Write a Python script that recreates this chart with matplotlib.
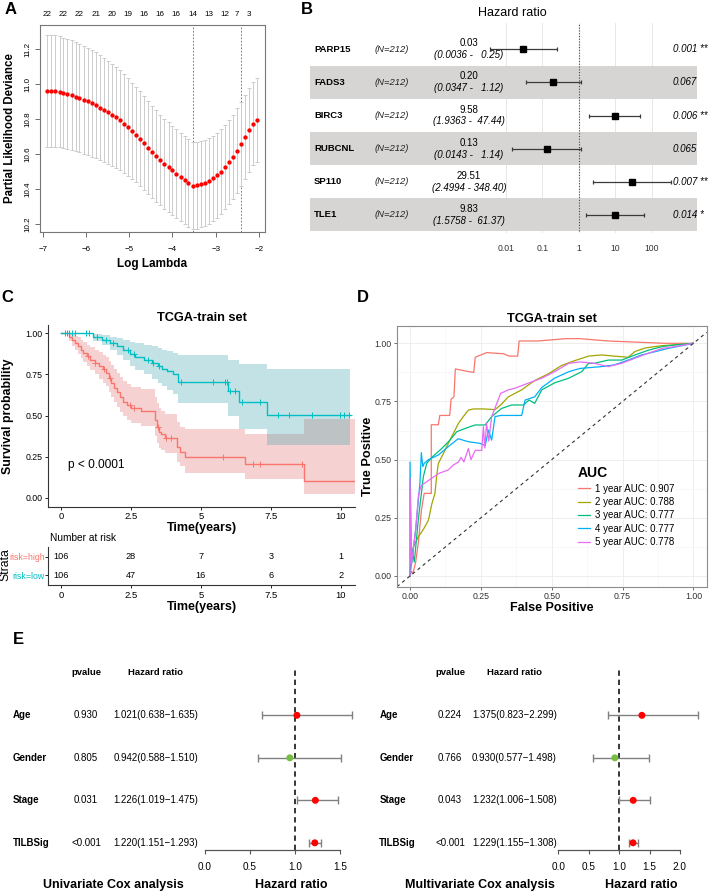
import numpy as np
import matplotlib
matplotlib.use("Agg")
import matplotlib.pyplot as plt
import matplotlib.transforms as mtransforms

plt.rcParams['font.family'] = ['Liberation Sans', 'DejaVu Sans']

W, H = 709, 892

# ---- A: LASSO cross validation ----
log_lambda = [-6.89, -6.80, -6.71, -6.61, -6.52, -6.43, -6.33, -6.24, -6.15, -6.05,
              -5.96, -5.87, -5.77, -5.68, -5.59, -5.49, -5.40, -5.31, -5.21, -5.12,
              -5.03, -4.93, -4.84, -4.75, -4.65, -4.56, -4.47, -4.37, -4.28, -4.19,
              -4.09, -4.00, -3.91, -3.81, -3.72, -3.63, -3.53, -3.44, -3.35, -3.25,
              -3.16, -3.07, -2.97, -2.88, -2.79, -2.69, -2.60, -2.51, -2.41, -2.32,
              -2.23, -2.13, -2.04]
cv_mean = [10.963, 10.962, 10.960, 10.956, 10.950, 10.944, 10.937, 10.929, 10.921, 10.912,
           10.902, 10.891, 10.879, 10.866, 10.853, 10.840, 10.826, 10.811, 10.794, 10.774,
           10.753, 10.732, 10.712, 10.689, 10.663, 10.637, 10.612, 10.589, 10.566, 10.545,
           10.526, 10.507, 10.488, 10.469, 10.451, 10.434, 10.420, 10.422, 10.427, 10.436,
           10.447, 10.461, 10.480, 10.500, 10.525, 10.554, 10.585, 10.620, 10.660, 10.700,
           10.740, 10.775, 10.795]
cv_se = [0.320, 0.320, 0.319, 0.318, 0.317, 0.316, 0.315, 0.313, 0.311, 0.309,
         0.307, 0.305, 0.303, 0.300, 0.298, 0.295, 0.292, 0.289, 0.286, 0.283,
         0.280, 0.277, 0.274, 0.271, 0.268, 0.265, 0.263, 0.261, 0.259, 0.257,
         0.255, 0.254, 0.253, 0.252, 0.251, 0.250, 0.249, 0.248, 0.247, 0.246,
         0.245, 0.244, 0.243, 0.243, 0.242, 0.242, 0.241, 0.241, 0.241, 0.240,
         0.240, 0.240, 0.240]
lambda_min = -3.53
lambda_1se = -2.41
nz_pos = [-6.89, -6.52, -6.15, -5.77, -5.40, -5.03, -4.65, -4.28, -3.91, -3.53, -3.16, -2.79, -2.51, -2.23]
nz_count = [22, 22, 22, 21, 20, 19, 16, 16, 16, 14, 13, 12, 7, 3]

# ---- B: multivariate cox of signature genes ----
genes = ['PARP15', 'FADS3', 'BIRC3', 'RUBCNL', 'SP110', 'TLE1']
gene_hr = [0.03, 0.20, 9.58, 0.13, 29.51, 9.83]
gene_lo = [0.0036, 0.0347, 1.9363, 0.0143, 2.4994, 1.5758]
gene_hi = [0.25, 1.12, 47.44, 1.14, 348.40, 61.37]
gene_p = ['0.001 **', '0.067', '0.006 **', '0.065', '0.007 **', '0.014 *']
n_patients = 212

# ---- C: Kaplan-Meier, TCGA train ----
high_t = [0, 0.30, 0.40, 0.50, 0.60, 0.70, 0.80, 0.92, 1.05, 1.20, 1.35, 1.50, 1.60, 1.70, 1.80, 1.90,
          2.00, 2.10, 2.22, 2.35, 2.50, 2.85, 3.35, 3.42, 3.50, 3.58, 3.70, 4.15, 4.25, 4.42, 6.58, 8.70]
high_s = [1.0, 0.98, 0.96, 0.94, 0.92, 0.90, 0.88, 0.86, 0.84, 0.82, 0.80, 0.78, 0.76, 0.73, 0.70, 0.67,
          0.64, 0.61, 0.585, 0.565, 0.545, 0.525, 0.47, 0.43, 0.40, 0.385, 0.365, 0.31, 0.28, 0.25, 0.207, 0.101]
high_up = [1.0, 1.0, 0.995, 0.985, 0.975, 0.96, 0.945, 0.93, 0.915, 0.90, 0.885, 0.87, 0.855, 0.83, 0.81, 0.785,
           0.76, 0.735, 0.71, 0.69, 0.675, 0.66, 0.615, 0.575, 0.545, 0.53, 0.51, 0.46, 0.43, 0.416, 0.385, 0.48]
high_lo = [1.0, 0.955, 0.925, 0.90, 0.875, 0.85, 0.825, 0.80, 0.775, 0.75, 0.725, 0.70, 0.68, 0.645, 0.615, 0.58,
           0.55, 0.52, 0.495, 0.47, 0.455, 0.435, 0.375, 0.335, 0.305, 0.29, 0.27, 0.22, 0.19, 0.152, 0.112, 0.02]
high_end = 10.51
high_cens = [0.95, 1.2, 1.55, 1.75, 2.45, 2.6, 3.45, 3.75, 3.95, 5.8, 6.85, 7.1, 8.6]

low_t = [0, 1.15, 1.45, 1.75, 2.0, 2.2, 2.45, 2.65, 2.95, 3.25, 3.45, 3.6, 3.8, 4.0, 4.18, 5.98, 6.38, 7.35]
low_s = [1.0, 0.980, 0.960, 0.940, 0.920, 0.900, 0.875, 0.855, 0.840, 0.820, 0.800, 0.785, 0.770, 0.750,
         0.704, 0.649, 0.582, 0.501]
low_up = [1.0, 0.998, 0.99, 0.98, 0.97, 0.96, 0.95, 0.94, 0.93, 0.92, 0.91, 0.90, 0.89, 0.88, 0.866, 0.84, 0.815, 0.785]
low_lo = [1.0, 0.955, 0.93, 0.90, 0.87, 0.84, 0.80, 0.775, 0.75, 0.72, 0.70, 0.68, 0.655, 0.63, 0.576, 0.50, 0.42, 0.318]
low_end = 10.33
low_cens = [0.15, 0.2, 0.3, 0.4, 0.5, 0.9, 1.0, 1.3, 1.6, 1.85, 2.4, 2.6, 3.1, 3.3, 3.5, 4.3,
            5.45, 5.86, 5.92, 6.04, 6.22, 6.46, 7.12, 7.77, 8.16, 8.96, 9.98, 10.1, 10.31]

risk_times = [0, 2.5, 5, 7.5, 10]
risk_high = [106, 28, 7, 3, 1]
risk_low = [106, 47, 16, 6, 2]

# ---- D: time dependent ROC ----
roc1_fp = [0, 0.005, 0.01, 0.02, 0.03, 0.04, 0.05, 0.075, 0.075, 0.10, 0.105, 0.14, 0.145, 0.155, 0.16, 0.20,
           0.225, 0.23, 0.26, 0.27, 0.33, 0.35, 0.38, 0.385, 0.45, 0.50, 0.55, 0.60, 0.70, 0.80, 0.90, 1.0]
roc1_tp = [0, 0.02, 0.01, 0.06, 0.15, 0.28, 0.355, 0.355, 0.65, 0.65, 0.69, 0.69, 0.76, 0.77, 0.89, 0.88,
           0.875, 0.94, 0.955, 0.96, 0.955, 0.945, 0.945, 1.01, 1.01, 1.015, 1.02, 1.02, 1.01, 1.005, 1.0, 1.0]
roc2_fp = [0, 0.005, 0.012, 0.03, 0.047, 0.065, 0.077, 0.088, 0.094, 0.10, 0.118, 0.135, 0.153, 0.171, 0.188,
           0.206, 0.224, 0.26, 0.30, 0.32, 0.347, 0.394, 0.44, 0.49, 0.535, 0.58, 0.63, 0.676, 0.72, 0.77,
           0.794, 0.83, 0.89, 0.95, 1.0]
roc2_tp = [0, 0.05, 0.126, 0.17, 0.2, 0.24, 0.31, 0.355, 0.43, 0.484, 0.527, 0.57, 0.613, 0.656, 0.685,
           0.713, 0.718, 0.718, 0.715, 0.735, 0.77, 0.80, 0.84, 0.87, 0.905, 0.925, 0.945, 0.95, 0.945, 0.94,
           0.965, 0.98, 0.99, 0.995, 1.0]
roc3_fp = [0, 0.006, 0.015, 0.03, 0.047, 0.059, 0.077, 0.112, 0.141, 0.165, 0.194, 0.23, 0.265, 0.288, 0.323,
           0.359, 0.40, 0.42, 0.44, 0.465, 0.51, 0.56, 0.606, 0.63, 0.65, 0.70, 0.747, 0.794, 0.84, 0.89, 0.935, 1.0]
roc3_tp = [0, 0.12, 0.06, 0.25, 0.427, 0.484, 0.51, 0.548, 0.584, 0.62, 0.634, 0.649, 0.649, 0.685, 0.72,
           0.735, 0.735, 0.756, 0.742, 0.80, 0.83, 0.85, 0.878, 0.914, 0.914, 0.928, 0.928, 0.95, 0.97, 0.986, 0.993, 1.0]
roc4_fp = [0, 0, 0.005, 0.02, 0.035, 0.04, 0.045, 0.05, 0.065, 0.10, 0.135, 0.17, 0.206, 0.247, 0.265, 0.277,
           0.288, 0.30, 0.32, 0.394, 0.406, 0.44, 0.465, 0.51, 0.56, 0.60, 0.676, 0.72, 0.77, 0.817, 0.865,
           0.91, 0.96, 1.0]
roc4_tp = [0, 0.49, 0.05, 0.2, 0.4, 0.53, 0.47, 0.484, 0.50, 0.52, 0.556, 0.59, 0.577, 0.57, 0.56, 0.627,
           0.584, 0.685, 0.69, 0.69, 0.756, 0.77, 0.81, 0.85, 0.878, 0.892, 0.90, 0.907, 0.928, 0.95, 0.964,
           0.978, 0.99, 1.0]
roc5_fp = [0, 0, 0.005, 0.02, 0.03, 0.04, 0.053, 0.10, 0.135, 0.153, 0.171, 0.18, 0.19, 0.206, 0.215, 0.23,
           0.253, 0.259, 0.264, 0.27, 0.278, 0.288, 0.32, 0.347, 0.37, 0.42, 0.465, 0.51, 0.56, 0.60, 0.65,
           0.70, 0.747, 0.794, 0.84, 0.89, 0.935, 1.0]
roc5_tp = [0, 0.42, 0.05, 0.2, 0.35, 0.39, 0.40, 0.44, 0.456, 0.477, 0.49, 0.51, 0.49, 0.548, 0.50, 0.54,
           0.54, 0.642, 0.55, 0.656, 0.58, 0.685, 0.785, 0.80, 0.807, 0.83, 0.85, 0.878, 0.914, 0.92, 0.914,
           0.90, 0.914, 0.936, 0.957, 0.978, 0.986, 1.0]
roc_years = [1, 2, 3, 4, 5]
roc_auc = [0.907, 0.788, 0.777, 0.777, 0.778]
roc_colors = ['#F8766D', '#A3A500', '#00BF7D', '#00B0F6', '#E76BF3']

# ---- E: univariate / multivariate cox ----
cox_vars = ['Age', 'Gender', 'Stage', 'TILBSig']
uni_hr = [1.021, 0.942, 1.226, 1.220]
uni_lo = [0.638, 0.588, 1.019, 1.151]
uni_hi = [1.635, 1.510, 1.475, 1.293]
uni_p = ['0.930', '0.805', '0.031', '<0.001']
multi_hr = [1.375, 0.930, 1.232, 1.229]
multi_lo = [0.823, 0.577, 1.006, 1.155]
multi_hi = [2.299, 1.498, 1.508, 1.308]
multi_p = ['0.224', '0.766', '0.043', '<0.001']

fig = plt.figure(figsize=(W / 100, H / 100), dpi=100)


def add_ax(l, t, r, b):
    # axes box given in pixels of the final image
    return fig.add_axes([l / W, 1 - b / H, (r - l) / W, (b - t) / H])


def ftext(x, y, s, **kw):
    fig.text(x / W, 1 - y / H, s, **kw)


for lab, x, y in [('A', 11, 9), ('B', 307, 9), ('C', 7, 297), ('D', 363, 297), ('E', 18, 639)]:
    ftext(x, y, lab, fontsize=12, fontweight='bold', ha='center', va='center')

# ================= A =================
axA = add_ax(40, 25, 265, 232)
axA.errorbar(log_lambda, cv_mean, yerr=cv_se, fmt='o', ms=2.1, mfc='red', mec='red',
             ecolor='#cccccc', elinewidth=0.7, capsize=1.6, capthick=0.7, zorder=3)
for v in (lambda_min, lambda_1se):
    axA.axvline(v, color='#666666', lw=0.6, ls=(0, (2, 2)), zorder=2)
axA.set_xlim(-7.062, -1.861)
axA.set_ylim(10.154, 11.339)
axA.set_xticks([-7, -6, -5, -4, -3, -2])
axA.set_yticks([10.2, 10.4, 10.6, 10.8, 11.0, 11.2])
axA.set_yticklabels(['10.2', '10.4', '10.6', '10.8', '11.0', '11.2'], rotation=90, va='center')
axA.tick_params(axis='x', labelsize=5.8, length=3.5, width=0.6, color='#555555', pad=6.5)
axA.tick_params(axis='y', labelsize=5.8, length=3.5, width=0.6, color='#555555', pad=3)
for sp in axA.spines.values():
    sp.set_color('#777777')
    sp.set_linewidth(0.8)
top = axA.secondary_xaxis('top')
top.set_xticks(nz_pos, [str(n) for n in nz_count])
top.tick_params(length=0, labelsize=5.8, pad=5)
top.spines['top'].set_visible(False)
axA.set_xlabel('Log Lambda', fontsize=8.5, fontweight='bold', va='center')
axA.xaxis.set_label_coords(0.5, -(263.5 - 232) / 207)
axA.set_ylabel('Partial Likelihood Deviance', fontsize=8.3, fontweight='bold', va='center')
axA.yaxis.set_label_coords(-(40 - 10) / 225, 0.5)

# ================= B =================
axB = add_ax(310, 23, 697, 233)
axB.set_xscale('log')
axB.set_xlim(10 ** -7.385, 10 ** 3.247)
axB.set_ylim(5.55, -0.795)
rows = np.arange(len(genes))
for i in rows:
    if i % 2 == 1:
        axB.axhspan(i - 0.5, i + 0.5, color='#D7D4D4', lw=0, zorder=1)
axB.set_xticks([0.01, 0.1, 1, 10, 100], ['0.01', '0.1', '1', '10', '100'])
axB.minorticks_off()
axB.grid(axis='x', color='#E6E6E6', lw=0.7)
axB.set_axisbelow(True)
axB.set_yticks([])
axB.tick_params(axis='x', length=0, labelsize=6.2, pad=8, labelcolor='#333333')
for sp in axB.spines.values():
    sp.set_visible(False)
axB.axvline(1, color='#444444', lw=0.8, ls=(0, (1, 1.5)), ymin=0.01, zorder=2)
hr = np.array(gene_hr)
axB.errorbar(hr, rows, xerr=[hr - np.array(gene_lo), np.array(gene_hi) - hr], fmt='s', ms=5,
             mfc='black', mec='black', ecolor='#3a3a3a', elinewidth=0.9, capsize=1.6, capthick=0.9, zorder=3)
tB = mtransforms.blended_transform_factory(fig.transFigure, axB.transData)
for i, g in enumerate(genes):
    axB.text(314 / W, i, g, transform=tB, fontsize=6.8, fontweight='bold', va='center', ha='left')
    axB.text(375 / W, i, f'(N={n_patients})', transform=tB, fontsize=6.8, style='italic',
             va='center', ha='left', color='#222222')
    axB.text(469 / W, i - 0.18, f'{gene_hr[i]:.2f}', transform=tB, fontsize=7, va='center', ha='center')
    axB.text(469 / W, i + 0.18, f'({gene_lo[i]:.4f} - {gene_hi[i]:6.2f})', transform=tB, fontsize=7,
             style='italic', va='center', ha='center')
    axB.text(673 / W, i, gene_p[i], transform=tB, fontsize=7, style='italic', va='center', ha='left')
ftext(512, 13, 'Hazard ratio', fontsize=9, ha='center', va='center')

# ================= C =================
red_c, teal_c = '#F8766D', '#00BFC4'
band_c = {red_c: '#E46969', teal_c: '#3AA2AC'}
axC = add_ax(48.3, 325, 355, 506.7)
for t, s, up, lo, end, cens, col in [(high_t, high_s, high_up, high_lo, high_end, high_cens, red_c),
                                      (low_t, low_s, low_up, low_lo, low_end, low_cens, teal_c)]:
    tt = np.append(t, end)
    axC.fill_between(tt, np.append(lo, lo[-1]), np.append(up, up[-1]), step='post',
                     color=band_c[col], alpha=0.3, lw=0)
    axC.step(tt, np.append(s, s[-1]), where='post', color=col, lw=1.0)
    idx = np.searchsorted(t, cens, side='right') - 1
    axC.plot(cens, np.array(s)[idx], ls='none', marker='+', ms=4, mew=0.7, color=col)
axC.set_xlim(-0.454, 10.51)
axC.set_ylim(-0.0547, 1.0505)
axC.set_xticks([0, 2.5, 5, 7.5, 10], ['0', '2.5', '5', '7.5', '10'])
axC.set_yticks([0, 0.25, 0.5, 0.75, 1.0], ['0.00', '0.25', '0.50', '0.75', '1.00'])
axC.tick_params(axis='x', labelsize=6.8, length=2.5, width=0.6, pad=1.5)
axC.tick_params(axis='y', labelsize=6.3, length=2.5, width=0.6, pad=1.5)
axC.spines['top'].set_visible(False)
axC.spines['right'].set_visible(False)
for sp in ('left', 'bottom'):
    axC.spines[sp].set_linewidth(0.8)
    axC.spines[sp].set_color('#333333')
axC.set_title('TCGA-train set', fontsize=9.2, fontweight='bold', pad=3)
axC.text(0.25, 0.2, 'p < 0.0001', fontsize=8.6, va='center', ha='left')
axC.set_xlabel('Time(years)', fontsize=9, fontweight='bold', va='center')
axC.xaxis.set_label_coords(0.5, -(527.7 - 506.7) / 181.7)
axC.set_ylabel('Survival probability', fontsize=8.9, fontweight='bold', va='center')
axC.yaxis.set_label_coords(-(48.3 - 8) / 306.7, 0.5)

axR = add_ax(48.3, 546.7, 355, 585)
axR.set_xlim(-0.454, 10.51)
axR.set_ylim(1.546, -0.546)
for j, counts in enumerate([risk_high, risk_low]):
    for tx, n in zip(risk_times, counts):
        axR.text(tx, j, str(n), fontsize=6.6, ha='center', va='center')
axR.set_yticks([0, 1], ['risk=high', 'risk=low'])
for lab, col in zip(axR.get_yticklabels(), [red_c, teal_c]):
    lab.set_color(col)
axR.set_xticks([0, 2.5, 5, 7.5, 10], ['0', '2.5', '5', '7.5', '10'])
axR.tick_params(axis='x', labelsize=6.8, length=2.5, width=0.6, pad=1.5)
axR.tick_params(axis='y', labelsize=6.3, length=2, width=0.6, pad=0.5)
axR.spines['top'].set_visible(False)
axR.spines['right'].set_visible(False)
for sp in ('left', 'bottom'):
    axR.spines[sp].set_linewidth(0.8)
    axR.spines[sp].set_color('#333333')
axR.set_xlabel('Time(years)', fontsize=9, fontweight='bold', va='center')
axR.xaxis.set_label_coords(0.5, -(606.7 - 585) / 38.3)
ftext(50, 538, 'Number at risk', fontsize=7.3, ha='left', va='center')
ftext(5, 565, 'Strata', fontsize=8.8, rotation=90, ha='center', va='center')

# ================= D =================
axD = add_ax(396.7, 326, 706.7, 586.7)
rocs = [(roc1_fp, roc1_tp), (roc2_fp, roc2_tp), (roc3_fp, roc3_tp), (roc4_fp, roc4_tp), (roc5_fp, roc5_tp)]
handles = []
for (fp, tp), col in zip(rocs, roc_colors):
    ln, = axD.plot(fp, tp, color=col, lw=0.9)
    handles.append(ln)
axD.axline((0, 0), (1, 1), color='#333333', lw=0.8, ls=(0, (3, 3)))
axD.set_xlim(-0.047, 1.047)
axD.set_ylim(-0.046, 1.0744)
ticks = [0, 0.25, 0.5, 0.75, 1.0]
axD.set_xticks(ticks, ['0.00', '0.25', '0.50', '0.75', '1.00'])
axD.set_yticks(ticks, ['0.00', '0.25', '0.50', '0.75', '1.00'])
axD.set_xticks([0.125, 0.375, 0.625, 0.875], minor=True)
axD.set_yticks([0.125, 0.375, 0.625, 0.875], minor=True)
axD.grid(which='major', color='#EBEBEB', lw=0.6)
axD.grid(which='minor', color='#F4F4F4', lw=0.4)
axD.set_axisbelow(True)
axD.tick_params(which='minor', length=0)
axD.tick_params(which='major', labelsize=6.3, length=2, width=0.6, color='#555555', pad=2,
                labelcolor='#333333')
for sp in axD.spines.values():
    sp.set_color('#8C8C8C')
    sp.set_linewidth(0.8)
axD.set_title('TCGA-train set', fontsize=9.2, fontweight='bold', pad=3)
axD.set_xlabel('False Positive', fontsize=9, fontweight='bold', va='center')
axD.xaxis.set_label_coords(0.5, -(608 - 586.7) / 260.7)
axD.set_ylabel('True Positive', fontsize=9.2, fontweight='bold', va='center')
axD.yaxis.set_label_coords(-(396.7 - 368) / 310, 0.5)
axD.legend(handles, [f'{y} year AUC: {a:.3f}' for y, a in zip(roc_years, roc_auc)], title='AUC',
           loc='upper left', bbox_to_anchor=(0.584, 0.462), frameon=False, fontsize=7,
           title_fontproperties={'weight': 'bold', 'size': 10}, handlelength=1.3, handletextpad=0.5,
           labelspacing=0.35, alignment='left', borderaxespad=0, borderpad=0)


# ================= E =================
def cox_forest(l, r, x0, unit, xmax, hrs, los, his, pvals, name_x, p_x, hr_x, title, title_x, hr_title_x):
    ax = add_ax(l, 665, r, 850)
    ax.set_xlim((l - x0) / unit, (r - x0) / unit)
    ax.set_ylim(3.169, -1.184)
    yy = np.arange(len(cox_vars))
    hrs_a = np.array(hrs)
    ax.vlines(1, 3.169, -1.125, color='black', lw=1.1, linestyles=(0, (3.5, 2.5)))
    ax.errorbar(hrs_a, yy, xerr=[hrs_a - np.array(los), np.array(his) - hrs_a], fmt='none',
                ecolor='#808080', elinewidth=1.0, capsize=3.2, capthick=1.0, clip_on=False)
    cols = ['red' if h > 1 else '#74BE41' for h in hrs]
    ax.scatter(hrs_a, yy, s=16, c=cols, zorder=3, clip_on=False)
    for sp in ('top', 'right', 'left'):
        ax.spines[sp].set_visible(False)
    ax.spines['bottom'].set_bounds(0, xmax)
    ax.spines['bottom'].set_color('#555555')
    ax.spines['bottom'].set_linewidth(0.9)
    tk = np.arange(0, xmax + 0.01, 0.5)
    ax.set_xticks(tk, [f'{v:.1f}' for v in tk])
    ax.set_yticks([])
    ax.tick_params(axis='x', labelsize=7.2, length=3, width=0.8, color='#555555', pad=5.5)
    tr = mtransforms.blended_transform_factory(fig.transFigure, ax.transData)
    ax.text(p_x / W, -1, 'pvalue', transform=tr, fontsize=6.8, fontweight='bold', ha='center', va='center')
    ax.text(hr_x / W, -1, 'Hazard ratio', transform=tr, fontsize=6.8, fontweight='bold', ha='center', va='center')
    for i, v in enumerate(cox_vars):
        ax.text(name_x / W, i, v, transform=tr, fontsize=7, fontweight='bold', ha='left', va='center')
        ax.text(p_x / W, i, pvals[i], transform=tr, fontsize=7, ha='center', va='center')
        ax.text(hr_x / W, i, f'{hrs[i]:.3f}({los[i]:.3f}\u2212{his[i]:.3f})', transform=tr,
                fontsize=7, ha='center', va='center')
    ftext(title_x, 885, title, fontsize=9, fontweight='bold', ha='center', va='center')
    ftext(hr_title_x, 885, 'Hazard ratio', fontsize=9, fontweight='bold', ha='center', va='center')


cox_forest(200, 356, 205, 90, 1.5, uni_hr, uni_lo, uni_hi, uni_p, 12.7, 86, 155.5,
           'Univariate Cox analysis', 113, 291.7)
cox_forest(553, 702, 558.3, 60.8, 2.0, multi_hr, multi_lo, multi_hi, multi_p, 379.3, 450, 514.3,
           'Multivariate Cox analysis', 480, 641.7)

fig.savefig('out.png', dpi=100)
